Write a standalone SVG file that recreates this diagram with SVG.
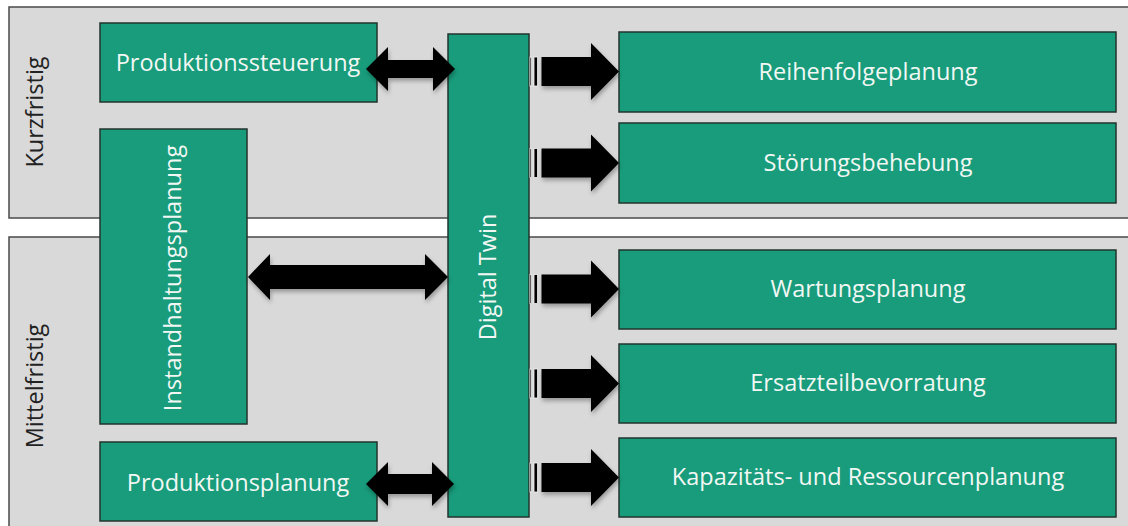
<svg xmlns="http://www.w3.org/2000/svg" width="1128" height="526" viewBox="0 0 1128 526">
  <style>
    .band { fill: #d9d9d9; stroke: #4a4a4a; stroke-width: 1.5; }
    .box { fill: #189c7b; stroke: #22332d; stroke-width: 1.5; }
    .lbl { font-family: "Open Sans", "Noto Sans", sans-serif; font-size: 23.5px; fill: #f2f7f4; text-anchor: middle; }
    .side { font-family: "Open Sans", "Noto Sans", sans-serif; font-size: 23.5px; fill: #222; text-anchor: middle; }
    .arrow { fill: #000; filter: url(#shadow); }
    .stripe { fill: #000; stroke: #f4f4f4; stroke-width: 0.8; }
  </style>
  <defs>
    <filter id="shadow" x="-10%" y="-20%" width="130%" height="160%">
      <feDropShadow dx="1" dy="3" stdDeviation="2" flood-color="#000" flood-opacity="0.3"/>
    </filter>
  </defs>

  <rect width="1128" height="526" fill="#ffffff"/>

  <!-- time horizon bands -->
  <g id="band-kurzfristig">
    <rect class="band" x="9" y="7" width="1130" height="211"/>
    <text class="side" transform="translate(43,112) rotate(-90)">Kurzfristig</text>
  </g>
  <g id="band-mittelfristig">
    <rect class="band" x="9" y="237" width="1130" height="300"/>
    <text class="side" transform="translate(43,386) rotate(-90)">Mittelfristig</text>
  </g>

  <!-- left-hand planning nodes -->
  <g id="produktionssteuerung">
    <rect class="box" x="100" y="23" width="277" height="79"/>
    <text class="lbl" x="238" y="71">Produktionssteuerung</text>
  </g>
  <g id="instandhaltungsplanung">
    <rect class="box" x="100" y="129" width="147" height="295"/>
    <text class="lbl" transform="translate(181,278) rotate(-90)">Instandhaltungsplanung</text>
  </g>
  <g id="produktionsplanung">
    <rect class="box" x="100" y="442" width="277" height="79"/>
    <text class="lbl" x="238" y="491">Produktionsplanung</text>
  </g>

  <!-- central node -->
  <g id="digital-twin">
    <rect class="box" x="448" y="34" width="81" height="483"/>
    <text class="lbl" transform="translate(496,277) rotate(-90)">Digital Twin</text>
  </g>

  <!-- right-hand application nodes -->
  <g id="reihenfolgeplanung">
    <rect class="box" x="619" y="32" width="497" height="80"/>
    <text class="lbl" x="868" y="80">Reihenfolgeplanung</text>
  </g>
  <g id="stoerungsbehebung">
    <rect class="box" x="619" y="123" width="497" height="80"/>
    <text class="lbl" x="868" y="171">Störungsbehebung</text>
  </g>
  <g id="wartungsplanung">
    <rect class="box" x="619" y="250" width="497" height="79"/>
    <text class="lbl" x="868" y="297">Wartungsplanung</text>
  </g>
  <g id="ersatzteilbevorratung">
    <rect class="box" x="619" y="344" width="497" height="79"/>
    <text class="lbl" x="868" y="391">Ersatzteilbevorratung</text>
  </g>
  <g id="kapazitaetsplanung">
    <rect class="box" x="619" y="438" width="497" height="79"/>
    <text class="lbl" x="868" y="485">Kapazitäts- und Ressourcenplanung</text>
  </g>

  <!-- connectors -->
  <g id="connectors">
    <!-- two-way exchange with the digital twin -->
    <polygon class="arrow" points="366,69 388,47 388,60 433,60 433,47 455,69 433,91 433,78 388,78 388,91"/>
    <polygon class="arrow" points="248,277 270,254 270,265 425,265 425,254 448,277 425,300 425,289 270,289 270,300"/>
    <polygon class="arrow" points="366,484 388,462 388,474 432,474 432,462 454,484 432,506 432,494 388,494 388,506"/>

    <!-- striped outputs from the digital twin -->
    <g id="out-reihenfolge">
      <rect class="stripe" x="530" y="57" width="1.6" height="29"/>
      <rect class="stripe" x="534" y="57" width="3.6" height="29"/>
      <polygon class="arrow" points="541.5,57 591,57 591,43 619,71.5 591,100 591,86 541.5,86"/>
    </g>
    <g id="out-stoerung">
      <rect class="stripe" x="530" y="148.5" width="1.6" height="29"/>
      <rect class="stripe" x="534" y="148.5" width="3.6" height="29"/>
      <polygon class="arrow" points="541.5,148.5 591,148.5 591,134.5 619,163 591,191.5 591,177.5 541.5,177.5"/>
    </g>
    <g id="out-wartung">
      <rect class="stripe" x="530" y="274.5" width="1.6" height="29"/>
      <rect class="stripe" x="534" y="274.5" width="3.6" height="29"/>
      <polygon class="arrow" points="541.5,274.5 591,274.5 591,260.5 619,289 591,317.5 591,303.5 541.5,303.5"/>
    </g>
    <g id="out-ersatzteil">
      <rect class="stripe" x="530" y="369" width="1.6" height="29"/>
      <rect class="stripe" x="534" y="369" width="3.6" height="29"/>
      <polygon class="arrow" points="541.5,369 591,369 591,355 619,383.5 591,412 591,398 541.5,398"/>
    </g>
    <g id="out-kapazitaet">
      <rect class="stripe" x="530" y="463" width="1.6" height="29"/>
      <rect class="stripe" x="534" y="463" width="3.6" height="29"/>
      <polygon class="arrow" points="541.5,463 591,463 591,449 619,477.5 591,506 591,492 541.5,492"/>
    </g>
  </g>
</svg>
